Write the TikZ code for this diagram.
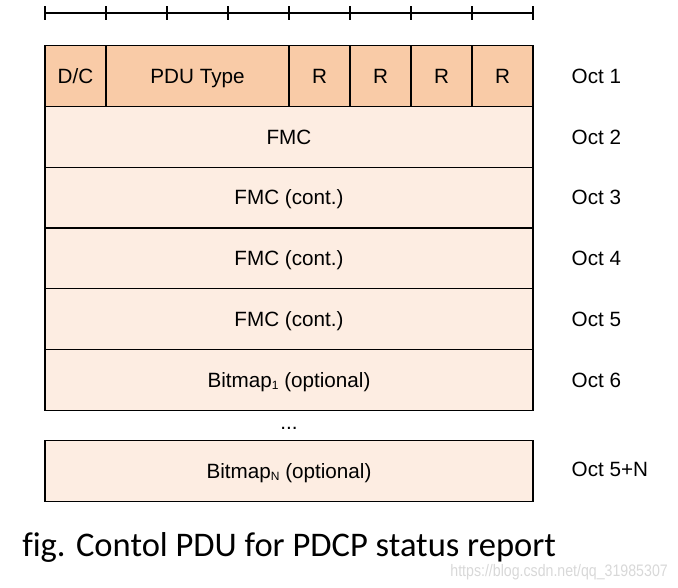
\documentclass[tikz,border=0pt]{standalone}
\usepackage{fontspec}
\setmainfont{Liberation Sans}
\newfontfamily\capfont[Ligatures=NoCommon]{Carlito}
\definecolor{hdr}{HTML}{F9CBA7}
\definecolor{body}{HTML}{FDEDE2}
\definecolor{wm}{HTML}{D8D8D8}
\newcommand{\subsc}[1]{\raisebox{-1.5pt}{\fontsize{9pt}{10pt}\selectfont #1}}
\begin{document}
\begin{tikzpicture}[x=0.75pt,y=-0.75pt,
  cell/.style={draw=black,line width=1pt,inner sep=0pt,minimum height=45.5pt,text height=12.5pt,text depth=2pt,font=\fontsize{15.5pt}{18pt}\selectfont},
  hcell/.style={cell,fill=hdr},
  bcell/.style={cell,fill=body,minimum width=366pt},
  oct/.style={anchor=west,text height=12.5pt,text depth=2pt,font=\fontsize{15.5pt}{18pt}\selectfont},
  ruler/.style={line width=0.9pt}]
\useasboundingbox (0,0) rectangle (678,587);
% ruler
\draw[ruler] (45,13) -- (533,13);
\foreach \i in {0,...,8} \draw[ruler] (45+61*\i,6) -- (45+61*\i,20);
% header row
\node[hcell,minimum width=45.75pt] (dc) at (75.5,76) {D/C};
\node[hcell,minimum width=137.25pt] (pdu) at (197.5,76) {PDU Type};
\node[hcell,minimum width=45.75pt] (r1) at (319.5,76) {R};
\node[hcell,minimum width=45.75pt] (r2) at (380.5,76) {R};
\node[hcell,minimum width=45.75pt] (r3) at (441.5,76) {R};
\node[hcell,minimum width=45.75pt] (r4) at (502.5,76) {R};
% body rows
\node[bcell] (fmc) at (289,137) {FMC};
\node[bcell] (fmc3) at (289,197.5) {FMC (cont.)};
\node[bcell] (fmc4) at (289,258.5) {FMC (cont.)};
\node[bcell] (fmc5) at (289,319) {FMC (cont.)};
\node[bcell] (bm1) at (289,380) {Bitmap\subsc{1} (optional)};
\node[font=\fontsize{15.5pt}{18pt}\selectfont] (dots) at (289,428) {...};
\node[bcell] (bmn) at (289,471) {Bitmap\subsc{N} (optional)};
% octet labels
\node[oct] (o1) at (567,76) {Oct 1};
\node[oct] (o2) at (567,137) {Oct 2};
\node[oct] (o3) at (567,197.5) {Oct 3};
\node[oct] (o4) at (567,258.5) {Oct 4};
\node[oct] (o5) at (567,319) {Oct 5};
\node[oct] (o6) at (567,380) {Oct 6};
\node[oct] (o7) at (567,469) {Oct 5+N};
% caption
\node[anchor=base west,inner sep=0pt,font=\capfont\fontsize{25.9pt}{30pt}\selectfont] (cap) at (22,556) {fig. Contol PDU for PDCP status report};
\node[anchor=base east,inner sep=0pt,text=wm,xscale=0.85,font=\fontsize{12.5pt}{14pt}\selectfont] (wmk) at (668,576) {https://blog.csdn.net/qq\_31985307};
\end{tikzpicture}
\end{document}
